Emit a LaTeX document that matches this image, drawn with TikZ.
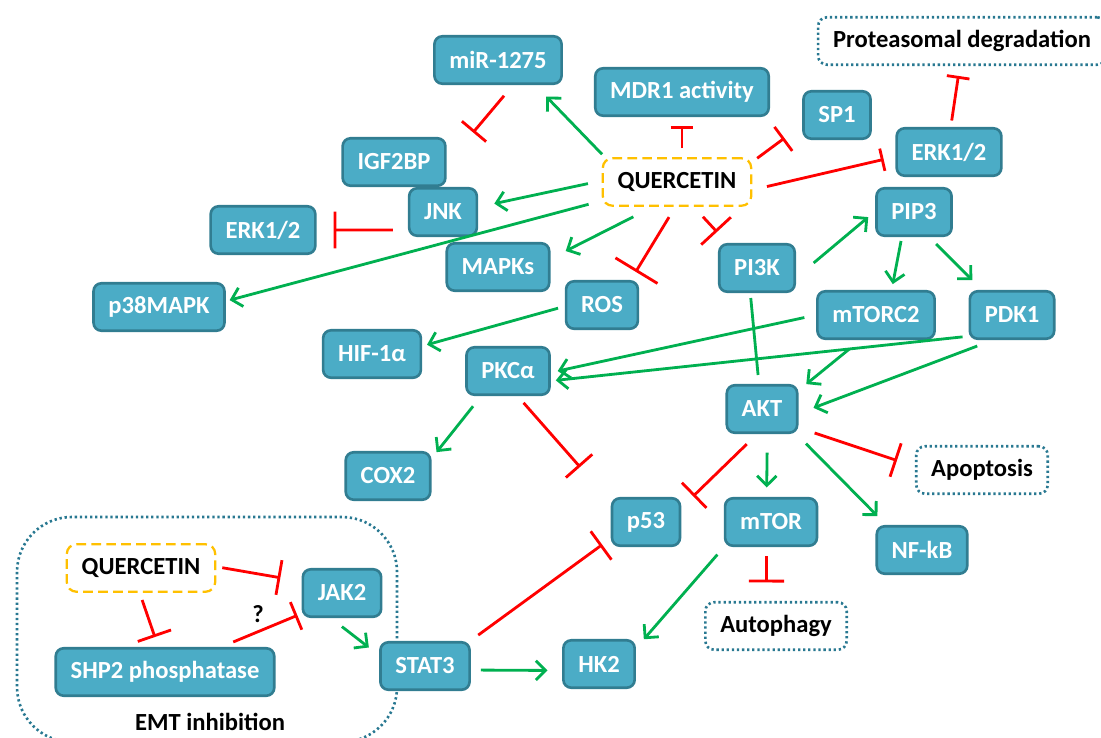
\documentclass[tikz,border=0pt]{standalone}
\usepackage{fontspec}
\setmainfont{Carlito}
\usetikzlibrary{arrows.meta}
\definecolor{boxfill}{RGB}{75,172,198}
\definecolor{boxline}{RGB}{49,125,145}
\definecolor{actgreen}{RGB}{0,176,80}
\definecolor{inhred}{RGB}{255,0,0}
\definecolor{quercol}{RGB}{255,192,0}
\definecolor{dotcol}{RGB}{40,120,145}
\tikzset{
  mol/.style={draw=boxline,fill=boxfill,line width=1.5pt,rounded corners=4.5pt,
    text=white,font=\fontsize{14}{16}\selectfont\bfseries,
    minimum height=27pt,inner xsep=8.5pt},
  drug/.style={draw=quercol,line width=1.3pt,dash pattern=on 5.5pt off 3pt,
    rounded corners=5.5pt,font=\fontsize{14}{16}\selectfont\bfseries,
    minimum height=27pt,inner xsep=8.5pt},
  fate/.style={draw=dotcol,line width=1.5pt,dash pattern=on 1.3pt off 1.6pt,
    rounded corners=5pt,font=\fontsize{14}{16}\selectfont\bfseries,
    minimum height=27pt,inner xsep=8.5pt},
  zone/.style={draw=dotcol,line width=1.5pt,dash pattern=on 1.3pt off 1.6pt,
    rounded corners=1.1cm},
  note/.style={font=\fontsize{14}{16}\selectfont\bfseries},
  act/.style={draw=actgreen,line width=1.6pt,-{Straight Barb[length=5.5pt,width=11pt]}},
  link/.style={draw=actgreen,line width=1.6pt},
  inh/.style={draw=inhred,line width=1.6pt,-{Bar[width=#1]}},
  inh/.default=20pt
}
\begin{document}
\begin{tikzpicture}[x=0.02cm,y=-0.02cm]
  \useasboundingbox (0,0) rectangle (1101,737);
  %% EMT region
  \draw[zone] (17,517) rectangle (397,742);
  \node[note] (emt) at (210,722) {EMT inhibition};
  %% Quercetin
  \node[drug] (q) at (677,182) {QUERCETIN};
  \node[drug] (q2) at (141,568) {QUERCETIN};
  %% Targets
  \node[mol] (mir) at (498,60) {miR-1275};
  \node[mol] (mdr) at (682,92) {MDR1 activity};
  \node[mol] (sp) at (837,115) {SP1};
  \node[mol] (erkr) at (949,152) {ERK1/2};
  \node[mol] (igf) at (394,162) {IGF2BP};
  \node[mol] (jnk) at (443,212) {JNK};
  \node[mol] (erkl) at (263,230) {ERK1/2};
  \node[mol] (p38) at (159,307) {p38MAPK};
  \node[mol] (mapk) at (498,267) {MAPKs};
  \node[mol] (ros) at (602,305) {ROS};
  \node[mol] (pik) at (757,268) {PI3K};
  \node[mol] (pip) at (914,212) {PIP3};
  \node[mol] (hif) at (372,354) {HIF-1α};
  \node[mol] (pkc) at (508,371) {PKCα};
  \node[mol] (mtorc) at (876,315) {mTORC2};
  \node[mol] (pdk) at (1012,315) {PDK1};
  \node[mol] (akt) at (762,409) {AKT};
  \node[mol] (cox) at (388,476) {COX2};
  \node[mol] (p53) at (646,522) {p53};
  \node[mol] (mtor) at (771,522) {mTOR};
  \node[mol] (nfkb) at (922,550) {NF-kB};
  \node[mol] (hk) at (599,664) {HK2};
  \node[mol] (jak) at (342,593) {JAK2};
  \node[mol] (shp) at (165,672) {SHP2 phosphatase};
  \node[mol] (stat) at (425,666) {STAT3};
  %% Outcomes
  \node[fate] (prot) at (962,41) {Proteasomal degradation};
  \node[fate] (apop) at (982,470) {Apoptosis};
  \node[fate] (auto) at (776,626) {Autophagy};
  \coordinate (pkcstop) at (580,467);
  %% Quercetin effects
  \draw[act,shorten <=0.08cm,shorten >=0.32cm] (q.161) -- (mir.326);
  \draw[inh=13pt,shorten <=0.18cm,shorten >=0.18cm] (mdr.south |- q.north) -- (mdr.south);
  \draw[inh=17pt,shorten <=0.12cm,shorten >=0.44cm] (q.15) -- (sp.196);
  \draw[inh=13pt,shorten <=0.3cm,shorten >=0.24cm] (q.354) -- (erkr.185);
  \draw[act,shorten <=0.28cm,shorten >=0.33cm] (q.179) -- (jnk.8);
  \draw[act,shorten <=0.27cm,shorten >=0.08cm] (q.194) -- (p38.5);
  \draw[act,shorten <=0.44cm,shorten >=0.34cm] (q.226) -- (mapk.9);
  \draw[inh=28pt,shorten <=0.24cm,shorten >=0.19cm] (q.266) -- (ros.41);
  \draw[inh=23pt,shorten <=0.27cm,shorten >=0.3cm] (q.304) -- (pik.140);
  %% Upper left
  \draw[inh=18pt,shorten <=0.28cm,shorten >=0.82cm] (mir.301) -- (igf.358);
  \draw[inh=21pt,shorten <=0.3cm,shorten >=0.34cm] (jnk.207) -- (erkl.east);
  \draw[act,shorten <=0.14cm,shorten >=0.1cm] (ros.182) -- (hif.9);
  \draw[inh=13pt,shorten <=0.13cm,shorten >=0.2cm] (erkr.86) -- (prot.265);
  %% PI3K / AKT axis
  \draw[act,shorten <=0.46cm,shorten >=0.18cm] (pik.346) -- (pip.179);
  \draw[act,shorten <=0.08cm,shorten >=0.12cm] (pip.244) -- (mtorc.58);
  \draw[act,shorten <=0.2cm,shorten >=0.28cm] (pip.301) -- (pdk.140);
  \draw[link,shorten <=0.1cm,shorten >=0.18cm] (pik.255) -- (akt.97);
  \draw[act,shorten <=0.24cm,shorten >=0.14cm] (mtorc.west) -- (pkc.358);
  \draw[act,shorten <=0.12cm,shorten >=0.1cm] (pdk.206) -- (pkc.347);
  \draw[act,shorten <=0.28cm,shorten >=0.2cm] (mtorc.238) -- (akt.27);
  \draw[act,shorten <=0.34cm,shorten >=0.32cm] (pdk.233) -- (akt.353);
  \draw[act,shorten <=0.26cm,shorten >=0.16cm] (pkc.223) -- (cox.22);
  \draw[inh,shorten <=0.18cm] (pkc.291) -- (pkcstop);
  %% AKT outputs
  \draw[inh,shorten <=0.29cm,shorten >=0.33cm] (akt.259) -- (p53.22);
  \draw[act,shorten <=0.37cm,shorten >=0.19cm] (akt.282) -- (mtor.100);
  \draw[act,shorten <=0.27cm,shorten >=0.25cm] (akt.324) -- (nfkb.145);
  \draw[inh,shorten <=0.34cm,shorten >=0.38cm] (akt.333) -- (apop.177);
  \draw[inh,shorten <=0.18cm,shorten >=0.37cm] (mtor.260) -- (auto.111);
  \draw[act,shorten <=0.2cm,shorten >=0.24cm] (mtor.208) -- (hk.23);
  %% JAK2 / STAT3
  \draw[inh,shorten <=0.12cm,shorten >=0.43cm] (q2.1) -- (jak.164);
  \draw[inh,shorten <=0.15cm,shorten >=0.21cm] (q2.267) -- (shp.105);
  \draw[inh=17pt,shorten <=0.26cm,shorten >=0.09cm] (shp.24) -- (jak.207);
  \node[note] (qm) at (258,614) {?};
  \draw[act,shorten <=0.28cm,shorten >=0.26cm] (jak.246) -- (stat.167);
  \draw[inh,shorten <=0.2cm,shorten >=0.21cm] (stat.29) -- (p53.205);
  \draw[act,shorten <=0.2cm,shorten >=0.29cm] (stat.355) -- (hk.190);
\end{tikzpicture}
\end{document}
